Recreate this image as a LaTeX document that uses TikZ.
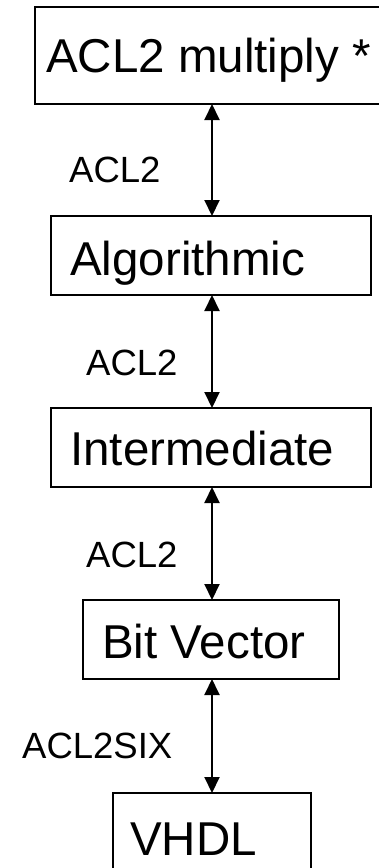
\documentclass[tikz,border=0pt]{standalone}
\usepackage{fontspec}
\setmainfont{Liberation Sans}
\usetikzlibrary{arrows.meta}
\begin{document}
\begin{tikzpicture}[x=1pt,y=-1pt,
  box/.style={draw=black, line width=2pt, fill=white, inner sep=0pt, outer sep=0pt},
  boxtext/.style={anchor=base west, inner sep=0pt, font=\fontsize{47.5}{57}\selectfont},
  lbl/.style={anchor=base west, inner sep=0pt, font=\fontsize{36.5}{44}\selectfont},
  biarrow/.style={line width=2pt, {Triangle[length=16pt,width=15pt]}-{Triangle[length=16pt,width=15pt]}}]
\useasboundingbox (0,0) rectangle (379,868);
\clip (0,0) rectangle (379,868);
% boxes
\node[box, minimum width=355pt, minimum height=97pt] (b1) at (212.5,55.5) {};
\node[box, minimum width=320pt, minimum height=79pt] (b2) at (211,255.5) {};
\node[box, minimum width=320pt, minimum height=79pt] (b3) at (211,447.5) {};
\node[box, minimum width=256pt, minimum height=79pt] (b4) at (211,639.5) {};
\node[box, minimum width=198pt, minimum height=79pt] (b5) at (212,832.5) {};
% box texts
\node[boxtext] (t1) at (46,72) {ACL2 multiply *};
\node[boxtext] (t2) at (70,275) {Algorithmic};
\node[boxtext] (t3) at (70,465) {Intermediate};
\node[boxtext] (t4) at (102,658) {Bit Vector};
\node[boxtext] (t5) at (130,855) {VHDL};
% connectors
\coordinate (ax) at (212,0);
\draw[biarrow] (b1.south -| ax) -- (b2.north -| ax);
\draw[biarrow] (b2.south -| ax) -- (b3.north -| ax);
\draw[biarrow] (b3.south -| ax) -- (b4.north -| ax);
\draw[biarrow] (b4.south -| ax) -- (b5.north -| ax);
% labels
\node[lbl] (l1) at (69,182) {ACL2};
\node[lbl] (l2) at (86,375) {ACL2};
\node[lbl] (l3) at (86,567) {ACL2};
\node[lbl] (l4) at (22,758) {ACL2SIX};
\end{tikzpicture}
\end{document}
